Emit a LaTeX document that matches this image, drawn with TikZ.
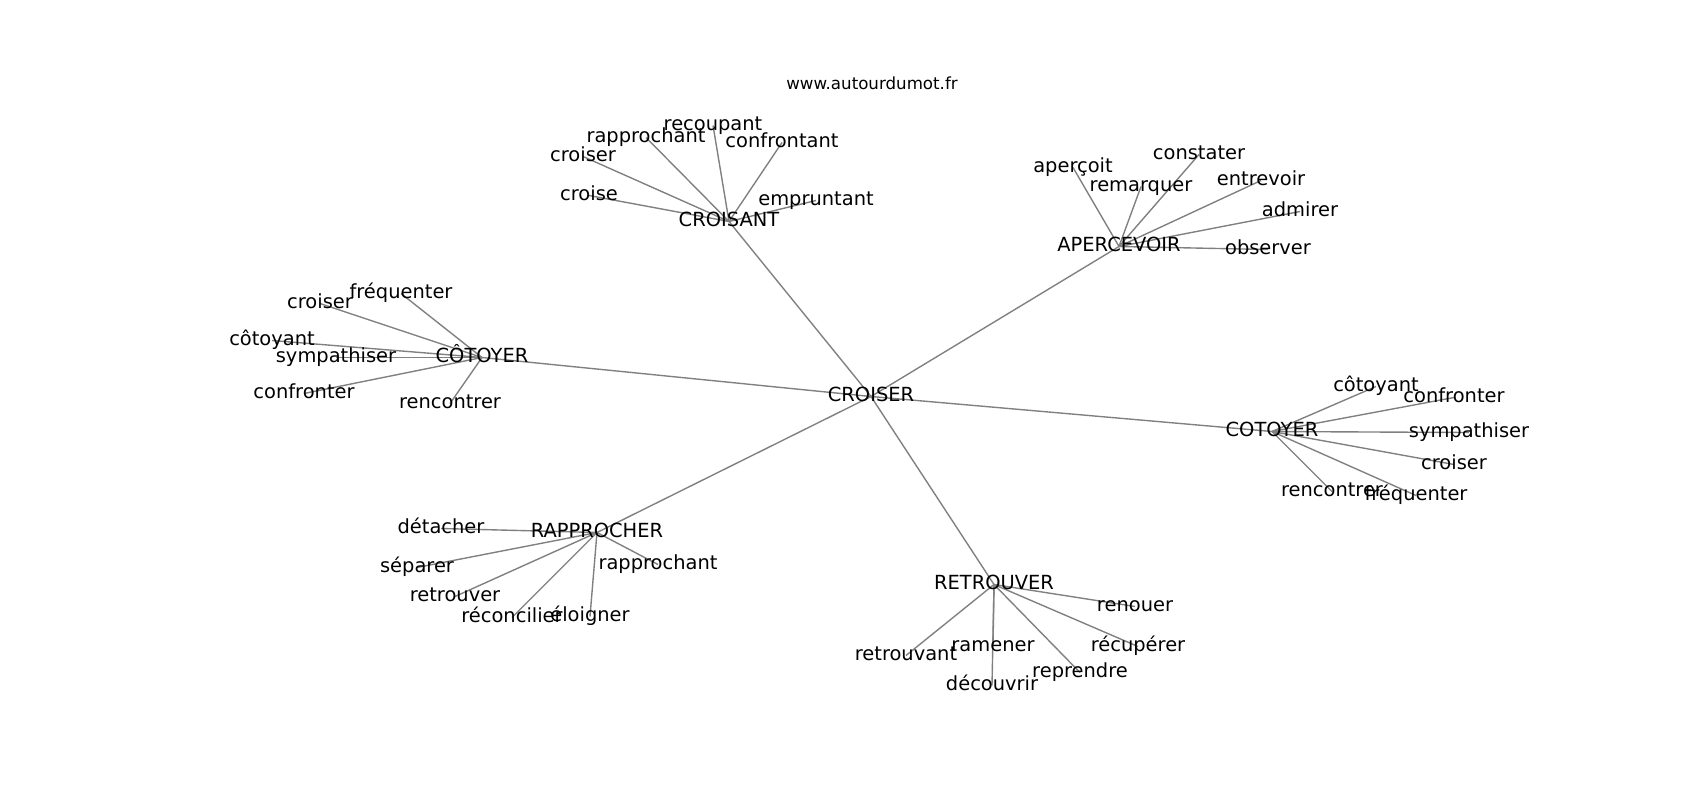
\documentclass[tikz,border=0pt]{standalone}
\usepackage{fontspec}
\setmainfont{DejaVu Sans}
\pgfdeclarelayer{bg}
\pgfsetlayers{bg,main}
\begin{document}
\begin{tikzpicture}[x=0.72pt, y=-0.72pt,
        every node/.style={inner sep=0pt, text height=10.6pt, text depth=2.9pt, font=\fontsize{14}{16}\selectfont},
        lnk/.style={draw=gray, line width=1pt}]
        \useasboundingbox (0,-1.5) rectangle (1700,798.5);
        \node (t) [font=\fontsize{12}{14}\selectfont, text height=9.1pt, text depth=2.5pt] at (872, 83) {www.autourdumot.fr};
        \node (v0) at (871, 395) {CROISER};
        \node (v1) at (729, 220) {CROISANT};
        \node (v2) at (1119, 245) {APERCEVOIR};
        \node (v3) at (482, 356) {CÔTOYER};
        \node (v4) at (1272, 430) {COTOYER};
        \node (v5) at (597, 531) {RAPPROCHER};
        \node (v6) at (994, 583) {RETROUVER};
        \node (v7) at (589, 194) {croise};
        \node (v8) at (583, 155) {croiser};
        \node (v9) at (646, 136) {rapprochant};
        \node (v10) at (713, 124) {recoupant};
        \node (v11) at (782, 141) {confrontant};
        \node (v12) at (816, 199) {empruntant};
        \node (v13) at (1073, 166) {aperçoit};
        \node (v14) at (1141, 185) {remarquer};
        \node (v15) at (1199, 153) {constater};
        \node (v16) at (1261, 179) {entrevoir};
        \node (v17) at (1300, 210) {admirer};
        \node (v18) at (1268, 248) {observer};
        \node (v19) at (320, 302) {croiser};
        \node (v20) at (401, 292) {fréquenter};
        \node (v21) at (272, 339) {côtoyant};
        \node (v22) at (336, 356) {sympathiser};
        \node (v23) at (304, 392) {confronter};
        \node (v24) at (450, 402) {rencontrer};
        \node (v25) at (1376, 385) {côtoyant};
        \node (v26) at (1454, 396) {confronter};
        \node (v27) at (1469, 431) {sympathiser};
        \node (v28) at (1454, 463) {croiser};
        \node (v29) at (1332, 490) {rencontrer};
        \node (v30) at (1416, 494) {fréquenter};
        \node (v31) at (441, 527) {détacher};
        \node (v32) at (417, 566) {séparer};
        \node (v33) at (455, 595) {retrouver};
        \node (v34) at (512, 616) {réconcilier};
        \node (v35) at (590, 615) {éloigner};
        \node (v36) at (658, 563) {rapprochant};
        \node (v37) at (1135, 605) {renouer};
        \node (v38) at (1138, 645) {récupérer};
        \node (v39) at (1080, 671) {reprendre};
        \node (v40) at (992, 684) {découvrir};
        \node (v41) at (993, 645) {ramener};
        \node (v42) at (906, 654) {retrouvant};
        \begin{pgfonlayer}{bg}
                \draw (v0.center) edge [lnk] (v1.center);
                \draw (v0.center) edge [lnk] (v2.center);
                \draw (v0.center) edge [lnk] (v3.center);
                \draw (v0.center) edge [lnk] (v4.center);
                \draw (v0.center) edge [lnk] (v5.center);
                \draw (v0.center) edge [lnk] (v6.center);
                \draw (v1.center) edge [lnk] (v7.center);
                \draw (v1.center) edge [lnk] (v8.center);
                \draw (v1.center) edge [lnk] (v9.center);
                \draw (v1.center) edge [lnk] (v10.center);
                \draw (v1.center) edge [lnk] (v11.center);
                \draw (v1.center) edge [lnk] (v12.center);
                \draw (v2.center) edge [lnk] (v13.center);
                \draw (v2.center) edge [lnk] (v14.center);
                \draw (v2.center) edge [lnk] (v15.center);
                \draw (v2.center) edge [lnk] (v16.center);
                \draw (v2.center) edge [lnk] (v17.center);
                \draw (v2.center) edge [lnk] (v18.center);
                \draw (v3.center) edge [lnk] (v19.center);
                \draw (v3.center) edge [lnk] (v20.center);
                \draw (v3.center) edge [lnk] (v21.center);
                \draw (v3.center) edge [lnk] (v22.center);
                \draw (v3.center) edge [lnk] (v23.center);
                \draw (v3.center) edge [lnk] (v24.center);
                \draw (v4.center) edge [lnk] (v25.center);
                \draw (v4.center) edge [lnk] (v26.center);
                \draw (v4.center) edge [lnk] (v27.center);
                \draw (v4.center) edge [lnk] (v28.center);
                \draw (v4.center) edge [lnk] (v29.center);
                \draw (v4.center) edge [lnk] (v30.center);
                \draw (v5.center) edge [lnk] (v31.center);
                \draw (v5.center) edge [lnk] (v32.center);
                \draw (v5.center) edge [lnk] (v33.center);
                \draw (v5.center) edge [lnk] (v34.center);
                \draw (v5.center) edge [lnk] (v35.center);
                \draw (v5.center) edge [lnk] (v36.center);
                \draw (v6.center) edge [lnk] (v37.center);
                \draw (v6.center) edge [lnk] (v38.center);
                \draw (v6.center) edge [lnk] (v39.center);
                \draw (v6.center) edge [lnk] (v40.center);
                \draw (v6.center) edge [lnk] (v41.center);
                \draw (v6.center) edge [lnk] (v42.center);
        \end{pgfonlayer}
\end{tikzpicture}
\end{document}
